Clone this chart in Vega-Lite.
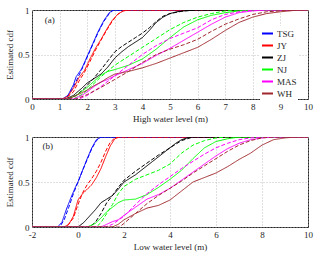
{
 "$schema": "https://vega.github.io/schema/vega-lite/v6.json",
 "padding": {"left": 5, "top": 5, "right": 2, "bottom": 2},
 "background": "white",
 "config": {
  "font": "Liberation Serif",
  "view": {"stroke": "#262626", "strokeWidth": 1},
  "axis": {"labelFont": "Liberation Serif", "labelFontSize": 9, "titleFont": "Liberation Serif", "titleFontSize": 9, "titleFontWeight": "normal", "labelColor": "#262626", "titleColor": "#262626", "domain": false, "ticks": false, "labelPadding": 3, "titlePadding": 3, "labelFlush": false, "labelOverlap": false, "gridColor": "#b0b0b0", "gridDash": [1, 2], "gridOpacity": 1, "gridWidth": 0.8},
  "legend": {"labelFont": "Liberation Serif", "labelFontSize": 9, "labelColor": "#262626"},
  "concat": {"spacing": 8}
 },
 "data": {"values": [
  {"p":"a","s":"TSG","t":"obs","x":0,"y":0},{"p":"a","s":"TSG","t":"obs","x":1.1,"y":0},{"p":"a","s":"TSG","t":"obs","x":1.3,"y":0.04},{"p":"a","s":"TSG","t":"obs","x":1.5,"y":0.16},{"p":"a","s":"TSG","t":"obs","x":1.6,"y":0.25},{"p":"a","s":"TSG","t":"obs","x":1.8,"y":0.34},{"p":"a","s":"TSG","t":"obs","x":2.0,"y":0.48},{"p":"a","s":"TSG","t":"obs","x":2.2,"y":0.62},{"p":"a","s":"TSG","t":"obs","x":2.4,"y":0.76},{"p":"a","s":"TSG","t":"obs","x":2.6,"y":0.88},{"p":"a","s":"TSG","t":"obs","x":2.8,"y":0.97},{"p":"a","s":"TSG","t":"obs","x":2.95,"y":1},{"p":"a","s":"TSG","t":"obs","x":10,"y":1},
  {"p":"a","s":"TSG","t":"fit","x":0,"y":0},{"p":"a","s":"TSG","t":"fit","x":1.2,"y":0},{"p":"a","s":"TSG","t":"fit","x":1.4,"y":0.08},{"p":"a","s":"TSG","t":"fit","x":1.6,"y":0.2},{"p":"a","s":"TSG","t":"fit","x":1.8,"y":0.33},{"p":"a","s":"TSG","t":"fit","x":2.0,"y":0.47},{"p":"a","s":"TSG","t":"fit","x":2.2,"y":0.61},{"p":"a","s":"TSG","t":"fit","x":2.4,"y":0.75},{"p":"a","s":"TSG","t":"fit","x":2.6,"y":0.87},{"p":"a","s":"TSG","t":"fit","x":2.8,"y":0.96},{"p":"a","s":"TSG","t":"fit","x":2.95,"y":1},{"p":"a","s":"TSG","t":"fit","x":10,"y":1},
  {"p":"a","s":"JY","t":"obs","x":0,"y":0},{"p":"a","s":"JY","t":"obs","x":1.1,"y":0},{"p":"a","s":"JY","t":"obs","x":1.3,"y":0.03},{"p":"a","s":"JY","t":"obs","x":1.5,"y":0.12},{"p":"a","s":"JY","t":"obs","x":1.7,"y":0.24},{"p":"a","s":"JY","t":"obs","x":1.9,"y":0.32},{"p":"a","s":"JY","t":"obs","x":2.1,"y":0.45},{"p":"a","s":"JY","t":"obs","x":2.3,"y":0.57},{"p":"a","s":"JY","t":"obs","x":2.5,"y":0.67},{"p":"a","s":"JY","t":"obs","x":2.7,"y":0.78},{"p":"a","s":"JY","t":"obs","x":2.9,"y":0.88},{"p":"a","s":"JY","t":"obs","x":3.1,"y":0.95},{"p":"a","s":"JY","t":"obs","x":3.3,"y":0.99},{"p":"a","s":"JY","t":"obs","x":3.5,"y":1},{"p":"a","s":"JY","t":"obs","x":10,"y":1},
  {"p":"a","s":"JY","t":"fit","x":0,"y":0},{"p":"a","s":"JY","t":"fit","x":1.2,"y":0},{"p":"a","s":"JY","t":"fit","x":1.5,"y":0.08},{"p":"a","s":"JY","t":"fit","x":1.7,"y":0.2},{"p":"a","s":"JY","t":"fit","x":1.9,"y":0.3},{"p":"a","s":"JY","t":"fit","x":2.1,"y":0.42},{"p":"a","s":"JY","t":"fit","x":2.3,"y":0.55},{"p":"a","s":"JY","t":"fit","x":2.5,"y":0.66},{"p":"a","s":"JY","t":"fit","x":2.7,"y":0.77},{"p":"a","s":"JY","t":"fit","x":2.9,"y":0.87},{"p":"a","s":"JY","t":"fit","x":3.1,"y":0.95},{"p":"a","s":"JY","t":"fit","x":3.3,"y":0.99},{"p":"a","s":"JY","t":"fit","x":3.5,"y":1},{"p":"a","s":"JY","t":"fit","x":10,"y":1},
  {"p":"a","s":"ZJ","t":"obs","x":0,"y":0},{"p":"a","s":"ZJ","t":"obs","x":1.2,"y":0},{"p":"a","s":"ZJ","t":"obs","x":1.5,"y":0.04},{"p":"a","s":"ZJ","t":"obs","x":1.8,"y":0.12},{"p":"a","s":"ZJ","t":"obs","x":2.0,"y":0.18},{"p":"a","s":"ZJ","t":"obs","x":2.25,"y":0.23},{"p":"a","s":"ZJ","t":"obs","x":2.5,"y":0.28},{"p":"a","s":"ZJ","t":"obs","x":2.75,"y":0.36},{"p":"a","s":"ZJ","t":"obs","x":3.0,"y":0.46},{"p":"a","s":"ZJ","t":"obs","x":3.25,"y":0.53},{"p":"a","s":"ZJ","t":"obs","x":3.5,"y":0.59},{"p":"a","s":"ZJ","t":"obs","x":3.75,"y":0.64},{"p":"a","s":"ZJ","t":"obs","x":4.0,"y":0.69},{"p":"a","s":"ZJ","t":"obs","x":4.25,"y":0.77},{"p":"a","s":"ZJ","t":"obs","x":4.5,"y":0.86},{"p":"a","s":"ZJ","t":"obs","x":4.75,"y":0.92},{"p":"a","s":"ZJ","t":"obs","x":5.0,"y":0.96},{"p":"a","s":"ZJ","t":"obs","x":5.25,"y":0.98},{"p":"a","s":"ZJ","t":"obs","x":5.5,"y":0.99},{"p":"a","s":"ZJ","t":"obs","x":6,"y":1},{"p":"a","s":"ZJ","t":"obs","x":10,"y":1},
  {"p":"a","s":"ZJ","t":"fit","x":0,"y":0},{"p":"a","s":"ZJ","t":"fit","x":1.3,"y":0},{"p":"a","s":"ZJ","t":"fit","x":1.6,"y":0.04},{"p":"a","s":"ZJ","t":"fit","x":1.9,"y":0.12},{"p":"a","s":"ZJ","t":"fit","x":2.2,"y":0.22},{"p":"a","s":"ZJ","t":"fit","x":2.5,"y":0.33},{"p":"a","s":"ZJ","t":"fit","x":2.75,"y":0.43},{"p":"a","s":"ZJ","t":"fit","x":3.0,"y":0.53},{"p":"a","s":"ZJ","t":"fit","x":3.25,"y":0.59},{"p":"a","s":"ZJ","t":"fit","x":3.5,"y":0.64},{"p":"a","s":"ZJ","t":"fit","x":3.75,"y":0.69},{"p":"a","s":"ZJ","t":"fit","x":4.0,"y":0.74},{"p":"a","s":"ZJ","t":"fit","x":4.25,"y":0.8},{"p":"a","s":"ZJ","t":"fit","x":4.5,"y":0.87},{"p":"a","s":"ZJ","t":"fit","x":4.75,"y":0.93},{"p":"a","s":"ZJ","t":"fit","x":5.0,"y":0.96},{"p":"a","s":"ZJ","t":"fit","x":5.5,"y":0.99},{"p":"a","s":"ZJ","t":"fit","x":6,"y":1},{"p":"a","s":"ZJ","t":"fit","x":10,"y":1},
  {"p":"a","s":"NJ","t":"obs","x":0,"y":0},{"p":"a","s":"NJ","t":"obs","x":1.3,"y":0},{"p":"a","s":"NJ","t":"obs","x":1.6,"y":0.04},{"p":"a","s":"NJ","t":"obs","x":2.0,"y":0.13},{"p":"a","s":"NJ","t":"obs","x":2.25,"y":0.2},{"p":"a","s":"NJ","t":"obs","x":2.5,"y":0.27},{"p":"a","s":"NJ","t":"obs","x":2.75,"y":0.31},{"p":"a","s":"NJ","t":"obs","x":3.0,"y":0.33},{"p":"a","s":"NJ","t":"obs","x":3.5,"y":0.38},{"p":"a","s":"NJ","t":"obs","x":4.0,"y":0.45},{"p":"a","s":"NJ","t":"obs","x":4.5,"y":0.56},{"p":"a","s":"NJ","t":"obs","x":5.0,"y":0.69},{"p":"a","s":"NJ","t":"obs","x":5.5,"y":0.81},{"p":"a","s":"NJ","t":"obs","x":6.0,"y":0.89},{"p":"a","s":"NJ","t":"obs","x":6.5,"y":0.94},{"p":"a","s":"NJ","t":"obs","x":7.0,"y":0.97},{"p":"a","s":"NJ","t":"obs","x":7.5,"y":0.99},{"p":"a","s":"NJ","t":"obs","x":8,"y":1},{"p":"a","s":"NJ","t":"obs","x":10,"y":1},
  {"p":"a","s":"NJ","t":"fit","x":0,"y":0},{"p":"a","s":"NJ","t":"fit","x":1.5,"y":0},{"p":"a","s":"NJ","t":"fit","x":1.8,"y":0.05},{"p":"a","s":"NJ","t":"fit","x":2.0,"y":0.1},{"p":"a","s":"NJ","t":"fit","x":2.5,"y":0.25},{"p":"a","s":"NJ","t":"fit","x":3.0,"y":0.38},{"p":"a","s":"NJ","t":"fit","x":3.5,"y":0.48},{"p":"a","s":"NJ","t":"fit","x":4.0,"y":0.58},{"p":"a","s":"NJ","t":"fit","x":4.5,"y":0.68},{"p":"a","s":"NJ","t":"fit","x":5.0,"y":0.78},{"p":"a","s":"NJ","t":"fit","x":5.5,"y":0.86},{"p":"a","s":"NJ","t":"fit","x":6.0,"y":0.92},{"p":"a","s":"NJ","t":"fit","x":6.5,"y":0.96},{"p":"a","s":"NJ","t":"fit","x":7.0,"y":0.99},{"p":"a","s":"NJ","t":"fit","x":7.5,"y":1},{"p":"a","s":"NJ","t":"fit","x":10,"y":1},
  {"p":"a","s":"MAS","t":"obs","x":0,"y":0},{"p":"a","s":"MAS","t":"obs","x":1.5,"y":0},{"p":"a","s":"MAS","t":"obs","x":1.8,"y":0.04},{"p":"a","s":"MAS","t":"obs","x":2.0,"y":0.08},{"p":"a","s":"MAS","t":"obs","x":2.25,"y":0.14},{"p":"a","s":"MAS","t":"obs","x":2.5,"y":0.19},{"p":"a","s":"MAS","t":"obs","x":2.75,"y":0.22},{"p":"a","s":"MAS","t":"obs","x":3.0,"y":0.26},{"p":"a","s":"MAS","t":"obs","x":3.5,"y":0.33},{"p":"a","s":"MAS","t":"obs","x":4.0,"y":0.4},{"p":"a","s":"MAS","t":"obs","x":4.5,"y":0.49},{"p":"a","s":"MAS","t":"obs","x":5.0,"y":0.57},{"p":"a","s":"MAS","t":"obs","x":5.5,"y":0.66},{"p":"a","s":"MAS","t":"obs","x":6.0,"y":0.75},{"p":"a","s":"MAS","t":"obs","x":6.5,"y":0.84},{"p":"a","s":"MAS","t":"obs","x":7.0,"y":0.92},{"p":"a","s":"MAS","t":"obs","x":7.5,"y":0.97},{"p":"a","s":"MAS","t":"obs","x":8.0,"y":0.99},{"p":"a","s":"MAS","t":"obs","x":8.5,"y":1},{"p":"a","s":"MAS","t":"obs","x":10,"y":1},
  {"p":"a","s":"MAS","t":"fit","x":0,"y":0},{"p":"a","s":"MAS","t":"fit","x":1.7,"y":0},{"p":"a","s":"MAS","t":"fit","x":2.0,"y":0.04},{"p":"a","s":"MAS","t":"fit","x":2.5,"y":0.14},{"p":"a","s":"MAS","t":"fit","x":3.0,"y":0.26},{"p":"a","s":"MAS","t":"fit","x":3.5,"y":0.38},{"p":"a","s":"MAS","t":"fit","x":4.0,"y":0.5},{"p":"a","s":"MAS","t":"fit","x":4.5,"y":0.6},{"p":"a","s":"MAS","t":"fit","x":5.0,"y":0.68},{"p":"a","s":"MAS","t":"fit","x":5.5,"y":0.74},{"p":"a","s":"MAS","t":"fit","x":6.0,"y":0.8},{"p":"a","s":"MAS","t":"fit","x":6.5,"y":0.89},{"p":"a","s":"MAS","t":"fit","x":7.0,"y":0.95},{"p":"a","s":"MAS","t":"fit","x":7.5,"y":0.98},{"p":"a","s":"MAS","t":"fit","x":8,"y":1},{"p":"a","s":"MAS","t":"fit","x":10,"y":1},
  {"p":"a","s":"WH","t":"obs","x":0,"y":0},{"p":"a","s":"WH","t":"obs","x":1.3,"y":0},{"p":"a","s":"WH","t":"obs","x":1.6,"y":0.04},{"p":"a","s":"WH","t":"obs","x":2.0,"y":0.1},{"p":"a","s":"WH","t":"obs","x":2.25,"y":0.15},{"p":"a","s":"WH","t":"obs","x":2.5,"y":0.19},{"p":"a","s":"WH","t":"obs","x":2.75,"y":0.24},{"p":"a","s":"WH","t":"obs","x":3.0,"y":0.28},{"p":"a","s":"WH","t":"obs","x":3.5,"y":0.31},{"p":"a","s":"WH","t":"obs","x":4.0,"y":0.35},{"p":"a","s":"WH","t":"obs","x":4.5,"y":0.4},{"p":"a","s":"WH","t":"obs","x":5.0,"y":0.46},{"p":"a","s":"WH","t":"obs","x":5.5,"y":0.52},{"p":"a","s":"WH","t":"obs","x":6.0,"y":0.58},{"p":"a","s":"WH","t":"obs","x":6.5,"y":0.67},{"p":"a","s":"WH","t":"obs","x":7.0,"y":0.77},{"p":"a","s":"WH","t":"obs","x":7.5,"y":0.86},{"p":"a","s":"WH","t":"obs","x":8.0,"y":0.92},{"p":"a","s":"WH","t":"obs","x":8.5,"y":0.96},{"p":"a","s":"WH","t":"obs","x":9.0,"y":0.98},{"p":"a","s":"WH","t":"obs","x":9.5,"y":0.995},{"p":"a","s":"WH","t":"obs","x":10,"y":1},
  {"p":"a","s":"WH","t":"fit","x":0,"y":0},{"p":"a","s":"WH","t":"fit","x":1.6,"y":0},{"p":"a","s":"WH","t":"fit","x":2.0,"y":0.05},{"p":"a","s":"WH","t":"fit","x":2.5,"y":0.13},{"p":"a","s":"WH","t":"fit","x":3.0,"y":0.22},{"p":"a","s":"WH","t":"fit","x":3.5,"y":0.31},{"p":"a","s":"WH","t":"fit","x":4.0,"y":0.41},{"p":"a","s":"WH","t":"fit","x":4.5,"y":0.5},{"p":"a","s":"WH","t":"fit","x":5.0,"y":0.56},{"p":"a","s":"WH","t":"fit","x":5.5,"y":0.61},{"p":"a","s":"WH","t":"fit","x":6.0,"y":0.67},{"p":"a","s":"WH","t":"fit","x":6.5,"y":0.76},{"p":"a","s":"WH","t":"fit","x":7.0,"y":0.84},{"p":"a","s":"WH","t":"fit","x":7.5,"y":0.9},{"p":"a","s":"WH","t":"fit","x":8.0,"y":0.95},{"p":"a","s":"WH","t":"fit","x":8.5,"y":0.98},{"p":"a","s":"WH","t":"fit","x":9.0,"y":0.99},{"p":"a","s":"WH","t":"fit","x":9.5,"y":1},{"p":"a","s":"WH","t":"fit","x":10,"y":1},

  {"p":"b","s":"TSG","t":"obs","x":-2,"y":0},{"p":"b","s":"TSG","t":"obs","x":-0.9,"y":0},{"p":"b","s":"TSG","t":"obs","x":-0.7,"y":0.05},{"p":"b","s":"TSG","t":"obs","x":-0.5,"y":0.2},{"p":"b","s":"TSG","t":"obs","x":-0.3,"y":0.33},{"p":"b","s":"TSG","t":"obs","x":-0.1,"y":0.45},{"p":"b","s":"TSG","t":"obs","x":0,"y":0.5},{"p":"b","s":"TSG","t":"obs","x":0.2,"y":0.63},{"p":"b","s":"TSG","t":"obs","x":0.4,"y":0.76},{"p":"b","s":"TSG","t":"obs","x":0.6,"y":0.88},{"p":"b","s":"TSG","t":"obs","x":0.8,"y":0.97},{"p":"b","s":"TSG","t":"obs","x":1.0,"y":1},{"p":"b","s":"TSG","t":"obs","x":10,"y":1},
  {"p":"b","s":"TSG","t":"fit","x":-2,"y":0},{"p":"b","s":"TSG","t":"fit","x":-0.8,"y":0},{"p":"b","s":"TSG","t":"fit","x":-0.6,"y":0.08},{"p":"b","s":"TSG","t":"fit","x":-0.4,"y":0.22},{"p":"b","s":"TSG","t":"fit","x":-0.2,"y":0.37},{"p":"b","s":"TSG","t":"fit","x":0,"y":0.5},{"p":"b","s":"TSG","t":"fit","x":0.2,"y":0.63},{"p":"b","s":"TSG","t":"fit","x":0.4,"y":0.75},{"p":"b","s":"TSG","t":"fit","x":0.6,"y":0.87},{"p":"b","s":"TSG","t":"fit","x":0.8,"y":0.96},{"p":"b","s":"TSG","t":"fit","x":1.0,"y":1},{"p":"b","s":"TSG","t":"fit","x":10,"y":1},
  {"p":"b","s":"JY","t":"obs","x":-2,"y":0},{"p":"b","s":"JY","t":"obs","x":-0.6,"y":0},{"p":"b","s":"JY","t":"obs","x":-0.4,"y":0.03},{"p":"b","s":"JY","t":"obs","x":-0.2,"y":0.12},{"p":"b","s":"JY","t":"obs","x":0,"y":0.3},{"p":"b","s":"JY","t":"obs","x":0.2,"y":0.37},{"p":"b","s":"JY","t":"obs","x":0.4,"y":0.42},{"p":"b","s":"JY","t":"obs","x":0.6,"y":0.47},{"p":"b","s":"JY","t":"obs","x":0.8,"y":0.55},{"p":"b","s":"JY","t":"obs","x":1.0,"y":0.65},{"p":"b","s":"JY","t":"obs","x":1.2,"y":0.78},{"p":"b","s":"JY","t":"obs","x":1.4,"y":0.9},{"p":"b","s":"JY","t":"obs","x":1.6,"y":0.98},{"p":"b","s":"JY","t":"obs","x":1.8,"y":1},{"p":"b","s":"JY","t":"obs","x":10,"y":1},
  {"p":"b","s":"JY","t":"fit","x":-2,"y":0},{"p":"b","s":"JY","t":"fit","x":-0.5,"y":0},{"p":"b","s":"JY","t":"fit","x":-0.2,"y":0.1},{"p":"b","s":"JY","t":"fit","x":0,"y":0.25},{"p":"b","s":"JY","t":"fit","x":0.2,"y":0.38},{"p":"b","s":"JY","t":"fit","x":0.4,"y":0.47},{"p":"b","s":"JY","t":"fit","x":0.6,"y":0.54},{"p":"b","s":"JY","t":"fit","x":0.8,"y":0.62},{"p":"b","s":"JY","t":"fit","x":1.0,"y":0.72},{"p":"b","s":"JY","t":"fit","x":1.2,"y":0.84},{"p":"b","s":"JY","t":"fit","x":1.4,"y":0.94},{"p":"b","s":"JY","t":"fit","x":1.6,"y":0.99},{"p":"b","s":"JY","t":"fit","x":1.8,"y":1},{"p":"b","s":"JY","t":"fit","x":10,"y":1},
  {"p":"b","s":"ZJ","t":"obs","x":-2,"y":0},{"p":"b","s":"ZJ","t":"obs","x":0,"y":0},{"p":"b","s":"ZJ","t":"obs","x":0.25,"y":0.05},{"p":"b","s":"ZJ","t":"obs","x":0.5,"y":0.12},{"p":"b","s":"ZJ","t":"obs","x":0.75,"y":0.19},{"p":"b","s":"ZJ","t":"obs","x":1.0,"y":0.27},{"p":"b","s":"ZJ","t":"obs","x":1.25,"y":0.31},{"p":"b","s":"ZJ","t":"obs","x":1.5,"y":0.35},{"p":"b","s":"ZJ","t":"obs","x":1.75,"y":0.42},{"p":"b","s":"ZJ","t":"obs","x":2.0,"y":0.5},{"p":"b","s":"ZJ","t":"obs","x":2.25,"y":0.54},{"p":"b","s":"ZJ","t":"obs","x":2.5,"y":0.58},{"p":"b","s":"ZJ","t":"obs","x":2.75,"y":0.63},{"p":"b","s":"ZJ","t":"obs","x":3.0,"y":0.68},{"p":"b","s":"ZJ","t":"obs","x":3.25,"y":0.73},{"p":"b","s":"ZJ","t":"obs","x":3.5,"y":0.78},{"p":"b","s":"ZJ","t":"obs","x":3.75,"y":0.83},{"p":"b","s":"ZJ","t":"obs","x":4.0,"y":0.88},{"p":"b","s":"ZJ","t":"obs","x":4.25,"y":0.93},{"p":"b","s":"ZJ","t":"obs","x":4.5,"y":0.97},{"p":"b","s":"ZJ","t":"obs","x":4.75,"y":0.99},{"p":"b","s":"ZJ","t":"obs","x":5,"y":1},{"p":"b","s":"ZJ","t":"obs","x":10,"y":1},
  {"p":"b","s":"ZJ","t":"fit","x":-2,"y":0},{"p":"b","s":"ZJ","t":"fit","x":0.5,"y":0},{"p":"b","s":"ZJ","t":"fit","x":0.75,"y":0.05},{"p":"b","s":"ZJ","t":"fit","x":1.0,"y":0.15},{"p":"b","s":"ZJ","t":"fit","x":1.25,"y":0.27},{"p":"b","s":"ZJ","t":"fit","x":1.5,"y":0.35},{"p":"b","s":"ZJ","t":"fit","x":1.75,"y":0.44},{"p":"b","s":"ZJ","t":"fit","x":2.0,"y":0.52},{"p":"b","s":"ZJ","t":"fit","x":2.25,"y":0.57},{"p":"b","s":"ZJ","t":"fit","x":2.5,"y":0.62},{"p":"b","s":"ZJ","t":"fit","x":3.0,"y":0.71},{"p":"b","s":"ZJ","t":"fit","x":3.5,"y":0.8},{"p":"b","s":"ZJ","t":"fit","x":4.0,"y":0.88},{"p":"b","s":"ZJ","t":"fit","x":4.5,"y":0.96},{"p":"b","s":"ZJ","t":"fit","x":5,"y":1},{"p":"b","s":"ZJ","t":"fit","x":10,"y":1},
  {"p":"b","s":"NJ","t":"obs","x":-2,"y":0},{"p":"b","s":"NJ","t":"obs","x":0.4,"y":0},{"p":"b","s":"NJ","t":"obs","x":0.75,"y":0.04},{"p":"b","s":"NJ","t":"obs","x":1.0,"y":0.1},{"p":"b","s":"NJ","t":"obs","x":1.25,"y":0.17},{"p":"b","s":"NJ","t":"obs","x":1.5,"y":0.22},{"p":"b","s":"NJ","t":"obs","x":1.75,"y":0.27},{"p":"b","s":"NJ","t":"obs","x":2.0,"y":0.3},{"p":"b","s":"NJ","t":"obs","x":2.5,"y":0.31},{"p":"b","s":"NJ","t":"obs","x":3.0,"y":0.36},{"p":"b","s":"NJ","t":"obs","x":3.5,"y":0.44},{"p":"b","s":"NJ","t":"obs","x":4.0,"y":0.53},{"p":"b","s":"NJ","t":"obs","x":4.5,"y":0.63},{"p":"b","s":"NJ","t":"obs","x":5.0,"y":0.76},{"p":"b","s":"NJ","t":"obs","x":5.5,"y":0.88},{"p":"b","s":"NJ","t":"obs","x":6.0,"y":0.95},{"p":"b","s":"NJ","t":"obs","x":6.5,"y":0.98},{"p":"b","s":"NJ","t":"obs","x":7,"y":1},{"p":"b","s":"NJ","t":"obs","x":10,"y":1},
  {"p":"b","s":"NJ","t":"fit","x":-2,"y":0},{"p":"b","s":"NJ","t":"fit","x":0.8,"y":0},{"p":"b","s":"NJ","t":"fit","x":1.0,"y":0.05},{"p":"b","s":"NJ","t":"fit","x":1.25,"y":0.15},{"p":"b","s":"NJ","t":"fit","x":1.5,"y":0.25},{"p":"b","s":"NJ","t":"fit","x":1.75,"y":0.37},{"p":"b","s":"NJ","t":"fit","x":2.0,"y":0.45},{"p":"b","s":"NJ","t":"fit","x":2.5,"y":0.53},{"p":"b","s":"NJ","t":"fit","x":3.0,"y":0.58},{"p":"b","s":"NJ","t":"fit","x":3.5,"y":0.63},{"p":"b","s":"NJ","t":"fit","x":4.0,"y":0.7},{"p":"b","s":"NJ","t":"fit","x":4.5,"y":0.82},{"p":"b","s":"NJ","t":"fit","x":5.0,"y":0.91},{"p":"b","s":"NJ","t":"fit","x":5.5,"y":0.96},{"p":"b","s":"NJ","t":"fit","x":6,"y":0.99},{"p":"b","s":"NJ","t":"fit","x":6.5,"y":1},{"p":"b","s":"NJ","t":"fit","x":10,"y":1},
  {"p":"b","s":"MAS","t":"obs","x":-2,"y":0},{"p":"b","s":"MAS","t":"obs","x":1.0,"y":0},{"p":"b","s":"MAS","t":"obs","x":1.25,"y":0.03},{"p":"b","s":"MAS","t":"obs","x":1.5,"y":0.06},{"p":"b","s":"MAS","t":"obs","x":1.75,"y":0.08},{"p":"b","s":"MAS","t":"obs","x":2.0,"y":0.13},{"p":"b","s":"MAS","t":"obs","x":2.5,"y":0.22},{"p":"b","s":"MAS","t":"obs","x":3.0,"y":0.31},{"p":"b","s":"MAS","t":"obs","x":3.5,"y":0.36},{"p":"b","s":"MAS","t":"obs","x":4.0,"y":0.43},{"p":"b","s":"MAS","t":"obs","x":4.5,"y":0.52},{"p":"b","s":"MAS","t":"obs","x":5.0,"y":0.61},{"p":"b","s":"MAS","t":"obs","x":5.5,"y":0.7},{"p":"b","s":"MAS","t":"obs","x":6.0,"y":0.79},{"p":"b","s":"MAS","t":"obs","x":6.5,"y":0.87},{"p":"b","s":"MAS","t":"obs","x":7.0,"y":0.93},{"p":"b","s":"MAS","t":"obs","x":7.5,"y":0.97},{"p":"b","s":"MAS","t":"obs","x":8,"y":0.99},{"p":"b","s":"MAS","t":"obs","x":8.5,"y":1},{"p":"b","s":"MAS","t":"obs","x":10,"y":1},
  {"p":"b","s":"MAS","t":"fit","x":-2,"y":0},{"p":"b","s":"MAS","t":"fit","x":1.2,"y":0},{"p":"b","s":"MAS","t":"fit","x":1.5,"y":0.03},{"p":"b","s":"MAS","t":"fit","x":2.0,"y":0.12},{"p":"b","s":"MAS","t":"fit","x":2.5,"y":0.25},{"p":"b","s":"MAS","t":"fit","x":3.0,"y":0.37},{"p":"b","s":"MAS","t":"fit","x":3.5,"y":0.47},{"p":"b","s":"MAS","t":"fit","x":4.0,"y":0.56},{"p":"b","s":"MAS","t":"fit","x":4.5,"y":0.65},{"p":"b","s":"MAS","t":"fit","x":5.0,"y":0.73},{"p":"b","s":"MAS","t":"fit","x":5.5,"y":0.81},{"p":"b","s":"MAS","t":"fit","x":6.0,"y":0.88},{"p":"b","s":"MAS","t":"fit","x":6.5,"y":0.93},{"p":"b","s":"MAS","t":"fit","x":7.0,"y":0.97},{"p":"b","s":"MAS","t":"fit","x":7.5,"y":0.99},{"p":"b","s":"MAS","t":"fit","x":8,"y":1},{"p":"b","s":"MAS","t":"fit","x":10,"y":1},
  {"p":"b","s":"WH","t":"obs","x":-2,"y":0},{"p":"b","s":"WH","t":"obs","x":1.5,"y":0},{"p":"b","s":"WH","t":"obs","x":1.75,"y":0.03},{"p":"b","s":"WH","t":"obs","x":2.0,"y":0.08},{"p":"b","s":"WH","t":"obs","x":2.5,"y":0.15},{"p":"b","s":"WH","t":"obs","x":3.0,"y":0.21},{"p":"b","s":"WH","t":"obs","x":3.5,"y":0.24},{"p":"b","s":"WH","t":"obs","x":4.0,"y":0.3},{"p":"b","s":"WH","t":"obs","x":4.5,"y":0.4},{"p":"b","s":"WH","t":"obs","x":5.0,"y":0.5},{"p":"b","s":"WH","t":"obs","x":5.5,"y":0.55},{"p":"b","s":"WH","t":"obs","x":6.0,"y":0.6},{"p":"b","s":"WH","t":"obs","x":6.5,"y":0.67},{"p":"b","s":"WH","t":"obs","x":7.0,"y":0.75},{"p":"b","s":"WH","t":"obs","x":7.5,"y":0.82},{"p":"b","s":"WH","t":"obs","x":8.0,"y":0.91},{"p":"b","s":"WH","t":"obs","x":8.5,"y":0.97},{"p":"b","s":"WH","t":"obs","x":9.0,"y":0.99},{"p":"b","s":"WH","t":"obs","x":9.5,"y":1},{"p":"b","s":"WH","t":"obs","x":10,"y":1},
  {"p":"b","s":"WH","t":"fit","x":-2,"y":0},{"p":"b","s":"WH","t":"fit","x":1.8,"y":0},{"p":"b","s":"WH","t":"fit","x":2.0,"y":0.04},{"p":"b","s":"WH","t":"fit","x":2.5,"y":0.15},{"p":"b","s":"WH","t":"fit","x":3.0,"y":0.26},{"p":"b","s":"WH","t":"fit","x":3.5,"y":0.35},{"p":"b","s":"WH","t":"fit","x":4.0,"y":0.43},{"p":"b","s":"WH","t":"fit","x":4.5,"y":0.51},{"p":"b","s":"WH","t":"fit","x":5.0,"y":0.6},{"p":"b","s":"WH","t":"fit","x":5.5,"y":0.68},{"p":"b","s":"WH","t":"fit","x":6.0,"y":0.76},{"p":"b","s":"WH","t":"fit","x":6.5,"y":0.84},{"p":"b","s":"WH","t":"fit","x":7.0,"y":0.91},{"p":"b","s":"WH","t":"fit","x":7.5,"y":0.96},{"p":"b","s":"WH","t":"fit","x":8.0,"y":0.99},{"p":"b","s":"WH","t":"fit","x":8.5,"y":1},{"p":"b","s":"WH","t":"fit","x":10,"y":1}
 ]},
 "vconcat": [
  {
   "width": 276, "height": 89,
   "encoding": {
    "x": {"field": "x", "type": "quantitative", "scale": {"domain": [0, 10], "nice": false}, "axis": {"values": [0,1,2,3,4,5,6,7,8,9,10], "title": "High water level (m)", "labelExpr": "'' + datum.value"}},
    "y": {"field": "y", "type": "quantitative", "scale": {"domain": [0, 1], "nice": false}, "axis": {"values": [0, 0.5, 1], "title": "Estimated cdf", "labelExpr": "'' + datum.value"}}
   },
   "layer": [
    {
     "transform": [{"filter": "datum.p == 'a'"}],
     "mark": {"type": "line", "strokeWidth": 1, "clip": true},
     "encoding": {
      "color": {"field": "s", "type": "nominal", "scale": {"domain": ["TSG","JY","ZJ","NJ","MAS","WH"], "range": ["#0000ff","#ff0000","#000000","#00ff00","#ff00ff","#a0282d"]},
       "legend": {"orient": "none", "legendX": 228, "legendY": 16, "title": null, "symbolType": "stroke", "symbolSize": 121, "symbolStrokeWidth": 2, "fillColor": "white", "padding": 1, "rowPadding": -1, "labelOffset": 3}},
      "strokeDash": {"field": "t", "type": "nominal", "scale": {"domain": ["obs","fit"], "range": [[1,0],[4,2]]}, "legend": null}
     }
    },
    {
     "data": {"values": [{"label": "(a)", "x": 0.64, "y": 0.89}]},
     "mark": {"type": "text", "font": "Liberation Serif", "fontSize": 9, "color": "#262626"},
     "encoding": {"text": {"field": "label"}}
    }
   ]
  },
  {
   "width": 276, "height": 90,
   "encoding": {
    "x": {"field": "x", "type": "quantitative", "scale": {"domain": [-2, 10], "nice": false}, "axis": {"values": [-2,0,2,4,6,8,10], "title": "Low water level (m)", "labelExpr": "'' + datum.value"}},
    "y": {"field": "y", "type": "quantitative", "scale": {"domain": [0, 1], "nice": false}, "axis": {"values": [0, 0.5, 1], "title": "Estimated cdf", "labelExpr": "'' + datum.value"}}
   },
   "layer": [
    {
     "transform": [{"filter": "datum.p == 'b'"}],
     "mark": {"type": "line", "strokeWidth": 1, "clip": true},
     "encoding": {
      "color": {"field": "s", "type": "nominal", "scale": {"domain": ["TSG","JY","ZJ","NJ","MAS","WH"], "range": ["#0000ff","#ff0000","#000000","#00ff00","#ff00ff","#a0282d"]}, "legend": null},
      "strokeDash": {"field": "t", "type": "nominal", "scale": {"domain": ["obs","fit"], "range": [[1,0],[4,2]]}, "legend": null}
     }
    },
    {
     "data": {"values": [{"label": "(b)", "x": -1.32, "y": 0.9}]},
     "mark": {"type": "text", "font": "Liberation Serif", "fontSize": 9, "color": "#262626"},
     "encoding": {"text": {"field": "label"}}
    }
   ]
  }
 ],
 "resolve": {"scale": {"color": "independent", "strokeDash": "independent", "x": "independent"}}
}
